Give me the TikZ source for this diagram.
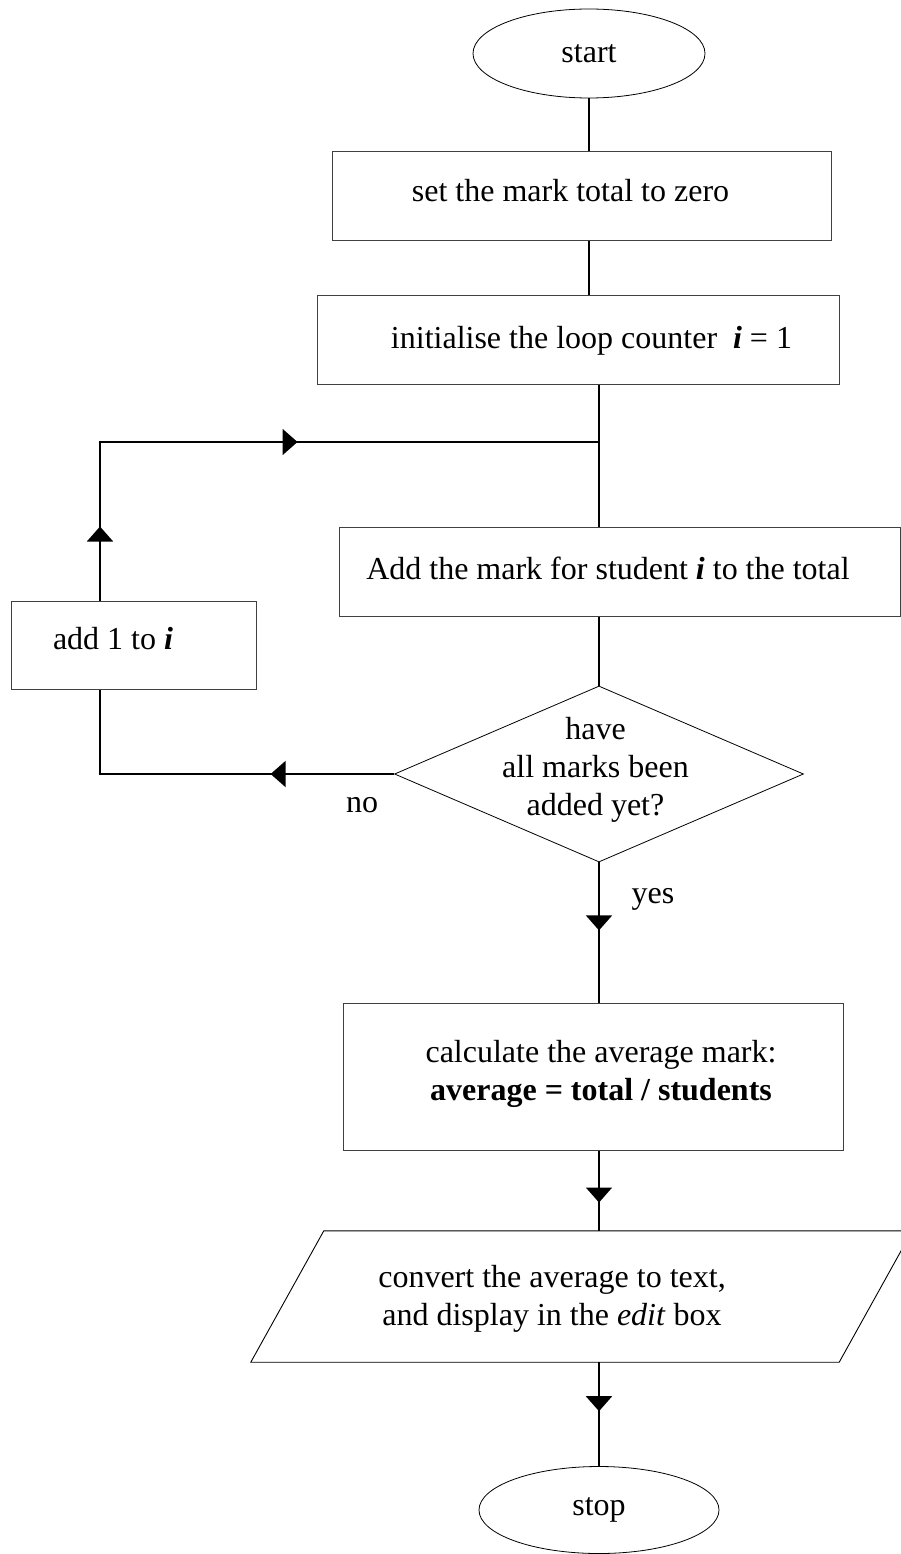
\documentclass[tikz,border=0pt]{standalone}
\usepackage{fontspec}
\setmainfont{Liberation Serif}
\usetikzlibrary{shapes.geometric,arrows.meta,decorations.markings}
\newcommand{\ivar}{\textbf{\textit{i}}}
\tikzset{
  box/.style={draw=black!75, line width=1pt, rectangle, inner sep=0pt, minimum height=89pt},
  term/.style={draw, line width=0.8pt, ellipse, inner sep=0pt},
  decision/.style={draw, line width=0.8pt, diamond, inner sep=0pt, minimum width=409pt, minimum height=176pt},
  io/.style={rectangle, inner sep=0pt, minimum width=661pt, minimum height=131pt},
  slant/.style={line width=0.9pt, line join=miter},
  txt/.style={align=center, inner sep=0pt},
  flow/.style={line width=1.8pt},
  midarrow/.style={postaction={decorate, decoration={markings,
    mark=at position #1 with {\arrow{Triangle[length=15pt,width=26pt]}}}}}
}
\begin{document}
\begin{tikzpicture}[x=1pt, y=-1pt, font=\fontsize{32}{38}\selectfont]
\useasboundingbox (0,0) rectangle (901,1554);
% the boxes
\node[term, minimum width=232pt, minimum height=89pt] (start) at (589,53.5) {start};
\node[box, minimum width=499pt, label={[txt, xshift=-11pt, yshift=5.5pt]center:set the mark total to zero}] (set) at (581.5,196.5) {};
\node[box, minimum width=522pt, label={[txt, xshift=13.5pt, yshift=-1pt]center:initialise the loop counter \ \ivar{} = 1}] (init) at (578,339.5) {};
\node[box, minimum width=561pt, label={[txt, xshift=-11.5pt, yshift=3.5pt]center:Add the mark for student \ivar{} to the total}] (addmark) at (619.5,571.5) {};
\node[box, minimum width=245pt, minimum height=88pt, label={[txt, xshift=-20.5pt, yshift=6pt]center:add 1 to \ivar}] (addone) at (133.5,645) {};
\node[decision, label={[txt, xshift=-3.5pt, yshift=4pt]center:have\\all marks been\\added yet?}] (test) at (599,774) {};
\node[box, minimum width=500pt, minimum height=147pt, label={[txt, xshift=8pt, yshift=3pt]center:calculate the average mark:\\\textbf{average = total / students}}] (calc) at (593,1076.5) {};
\node[io, label={[txt, xshift=-29.5pt, yshift=-2.5pt]center:convert the average to text,\\and display in the \textit{edit} box}] (show) at (581.5,1296.5) {};
\draw[slant] ([xshift=73pt]show.north west) -- (show.north east) -- ([xshift=-73pt]show.south east) -- (show.south west) -- cycle;
\node[term, minimum width=240pt, minimum height=87pt] (stop) at (599,1510) {stop};
\node[txt] (no) at (362,805) {no};
\node[txt] (yes) at (653,899) {yes};
\coordinate (back) at (100,442);
% the flow
\draw[flow] (start.south) -- (start.south |- set.north);
\draw[flow] (set.south -| start) -- (init.north -| start);
\draw[flow] (init.south -| test) -- (addmark.north -| test);
\draw[flow] (addmark.south -| test) -- (test.north);
\draw[flow, midarrow=123.5pt] (test.west) -- (test.west -| back) -- (addone.south -| back);
\draw[flow, midarrow=74pt, midarrow=356pt] (addone.north -| back) -- (back) -- (back -| test);
\draw[flow, midarrow=68pt] (test.south) -- (calc.north -| test);
\draw[flow, midarrow=52pt] (calc.south -| test) -- (show.north -| test);
\draw[flow, midarrow=49pt] (show.south -| test) -- (stop.north);
\end{tikzpicture}
\end{document}
